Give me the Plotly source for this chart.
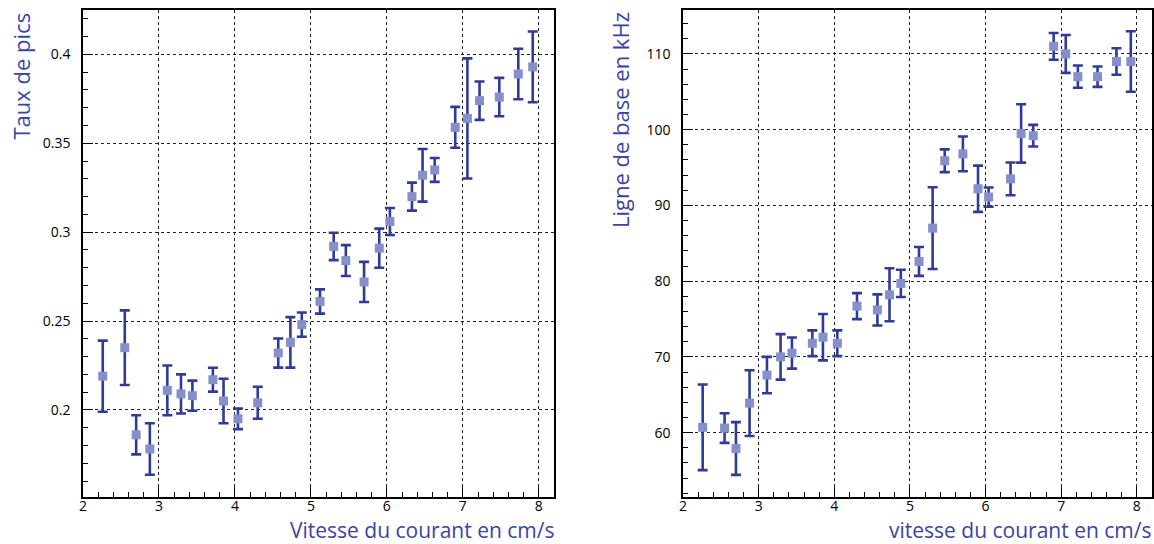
import plotly.graph_objects as go

# shared x positions (current velocity, cm/s)
vitesse = [2.26, 2.55, 2.70, 2.88, 3.11, 3.29, 3.44, 3.71, 3.85, 4.04, 4.30, 4.57, 4.73, 4.88, 5.12,
           5.30, 5.46, 5.70, 5.90, 6.04, 6.33, 6.47, 6.63, 6.90, 7.06, 7.22, 7.48, 7.73, 7.92]

taux_pics = [0.219, 0.235, 0.186, 0.178, 0.211, 0.209, 0.208, 0.217, 0.205, 0.195, 0.204, 0.232, 0.238, 0.248, 0.261,
             0.292, 0.284, 0.272, 0.291, 0.306, 0.320, 0.332, 0.335, 0.359, 0.364, 0.374, 0.376, 0.389, 0.393]
taux_err = [0.020, 0.021, 0.011, 0.0145, 0.014, 0.011, 0.0085, 0.0067, 0.0125, 0.0058, 0.009, 0.0082, 0.0142, 0.0068, 0.0068,
            0.0077, 0.0087, 0.0113, 0.011, 0.0076, 0.0079, 0.0148, 0.0067, 0.0115, 0.0338, 0.0108, 0.0108, 0.0142, 0.0199]

ligne_base = [60.7, 60.6, 57.9, 63.9, 67.6, 70.0, 70.5, 71.8, 72.6, 71.8, 76.7, 76.2, 78.2, 79.7, 82.6,
              87.0, 95.9, 96.8, 92.2, 91.1, 93.5, 99.5, 99.2, 111.0, 110.0, 107.0, 107.0, 109.0, 109.0]
ligne_err = [5.65, 1.95, 3.48, 4.34, 2.4, 3.0, 2.05, 1.7, 3.06, 1.7, 1.72, 2.05, 3.5, 1.8, 1.9,
             5.4, 1.5, 2.3, 3.05, 1.27, 2.16, 3.85, 1.43, 1.77, 2.5, 1.47, 1.35, 1.75, 4.0]

x_ticks = [2, 3, 4, 5, 6, 7, 8]
left_yticks = [0.2, 0.25, 0.3, 0.35, 0.4]
right_yticks = [60, 70, 80, 90, 100, 110]

MARK = "#8590cb"
ERR = "#2f3b96"
TITLE = "#3b44a3"
FONT = "Open Sans"

W, H = 1154, 544

fig = go.Figure()
for xa, ya, yv, ev in [("x", "y", taux_pics, taux_err), ("x2", "y2", ligne_base, ligne_err)]:
    fig.add_trace(go.Scatter(
        x=vitesse, y=yv, xaxis=xa, yaxis=ya, mode="markers",
        marker=dict(symbol="square", size=9, color=MARK),
        error_y=dict(type="data", array=ev, visible=True, color=ERR, thickness=2.6, width=5),
        showlegend=False))

def px(xp):
    return xp / W

def py(yp):
    return 1 - yp / H

ydom = [py(497), py(10)]
common_x = dict(range=[2, 8.2], tickvals=x_ticks, ticks="inside", ticklen=10, tickwidth=1, tickcolor="black",
                minor=dict(dtick=0.2, tick0=2, ticks="inside", ticklen=5, tickcolor="black", showgrid=False),
                showgrid=True, gridcolor="#222", griddash="dot", gridwidth=1,
                showline=True, linecolor="black", linewidth=1.5, mirror=True,
                tickfont=dict(family=FONT, size=14, color="black"), zeroline=False,
                ticklabelstandoff=-5, automargin=False)
common_y = dict(ticks="inside", ticklen=10, tickwidth=1, tickcolor="black",
                showgrid=True, gridcolor="#222", griddash="dot", gridwidth=1,
                showline=True, linecolor="black", linewidth=1.5, mirror=True,
                tickfont=dict(family=FONT, size=14, color="black"), zeroline=False,
                ticklabelstandoff=8, automargin=False)

fig.update_layout(
    width=W, height=H,
    margin=dict(l=0, r=0, t=0, b=0, autoexpand=False),
    paper_bgcolor="white", plot_bgcolor="white",
    xaxis=dict(domain=[px(83), px(554)], anchor="y", **common_x),
    yaxis=dict(domain=ydom, anchor="x", range=[0.151, 0.425], tickvals=left_yticks,
               ticktext=["0.2", "0.25", "0.3", "0.35", "0.4"],
               minor=dict(dtick=0.01, tick0=0.15, ticks="inside", ticklen=5, tickcolor="black", showgrid=False),
               **common_y),
    xaxis2=dict(domain=[px(683), px(1152)], anchor="y2", **common_x),
    yaxis2=dict(domain=ydom, anchor="x2", range=[51.5, 115.8], tickvals=right_yticks,
                minor=dict(dtick=2, tick0=50, ticks="inside", ticklen=5, tickcolor="black", showgrid=False),
                **common_y),
    annotations=[
        dict(text="Vitesse du courant en cm/s", xref="paper", yref="paper", x=px(556), y=py(529.5),
             xanchor="right", yanchor="middle", showarrow=False, borderpad=0,
             font=dict(family=FONT, size=21, color=TITLE)),
        dict(text="vitesse du courant en cm/s", xref="paper", yref="paper", x=px(1153), y=py(529.5),
             xanchor="right", yanchor="middle", showarrow=False, borderpad=0,
             font=dict(family=FONT, size=21, color=TITLE)),
        dict(text="Taux de pics", xref="paper", yref="paper", x=px(20), y=py(11),
             xanchor="center", yanchor="top", textangle=-90, showarrow=False,
             font=dict(family=FONT, size=22, color=TITLE)),
        dict(text="Ligne de base en kHz", xref="paper", yref="paper", x=px(620), y=py(10),
             xanchor="center", yanchor="top", textangle=-90, showarrow=False,
             font=dict(family=FONT, size=22, color=TITLE)),
    ],
)

fig.write_html("out.html", config={"displayModeBar": False},
               post_script="document.body.style.margin='0';document.body.style.overflow='hidden';")
